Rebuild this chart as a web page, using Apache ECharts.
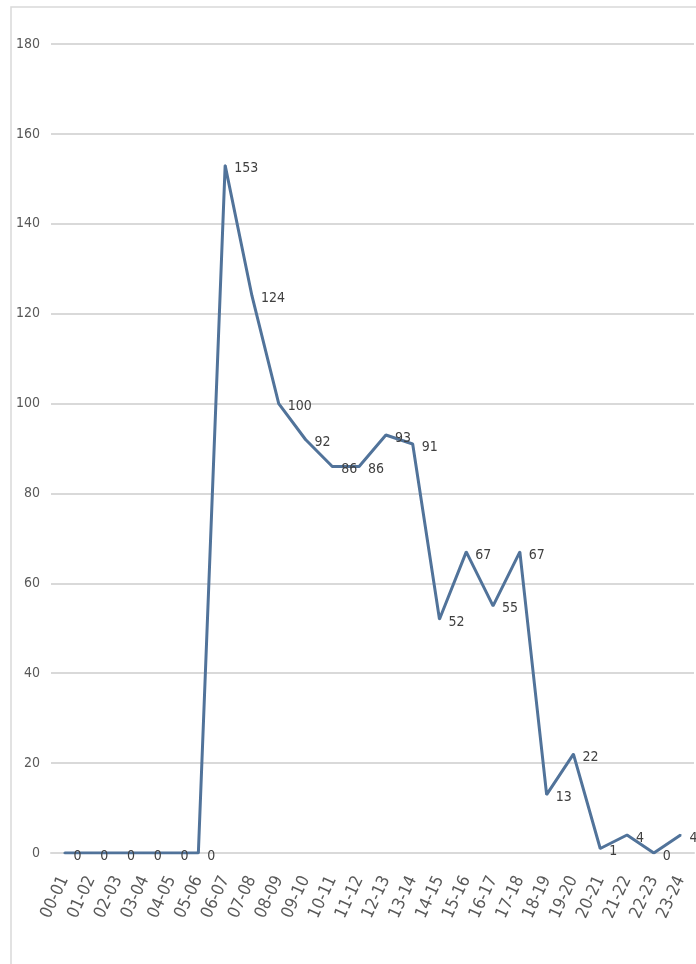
<!DOCTYPE html>
<html>
<head>
<meta charset="utf-8">
<script src="https://cdn.jsdelivr.net/npm/echarts@6/dist/echarts.min.js"></script>
<style>
  html, body { margin: 0; padding: 0; background: #fff; }
  #main { width: 696px; height: 964px; }
</style>
</head>
<body>
<div id="main"></div>
<script>
// hour slots
var categories = ['00-01', '01-02', '02-03', '03-04', '04-05', '05-06', '06-07', '07-08',
  '08-09', '09-10', '10-11', '11-12', '12-13', '13-14', '14-15', '15-16', '16-17',
  '17-18', '18-19', '19-20', '20-21', '21-22', '22-23', '23-24'];
var values = [0, 0, 0, 0, 0, 0, 153, 124, 100, 92, 86, 86, 93, 91, 52, 67, 55, 67, 13, 22, 1, 4, 0, 4];
var yTicks = [0, 20, 40, 60, 80, 100, 120, 140, 160, 180];

var chart = echarts.init(document.getElementById('main'));
var labelFont = '"DejaVu Sans Condensed", "Liberation Sans Narrow", sans-serif';

chart.setOption({
  animation: false,
  graphic: [
    {
      type: 'rect',
      shape: { x: 11, y: 7, width: 720, height: 990 },
      style: { fill: 'none', stroke: '#d9d9d9', lineWidth: 1.5 },
      z: -1
    }
  ],
  grid: {
    left: 51,
    right: 2,
    top: 44,
    bottom: 111
  },
  xAxis: {
    type: 'category',
    data: categories,
    axisLine: { lineStyle: { color: '#d9d9d9', width: 2 } },
    axisTick: { show: false },
    axisLabel: {
      rotate: 65,
      interval: 0,
      margin: 24,
      color: '#595959',
      fontSize: 17,
      fontFamily: labelFont
    }
  },
  yAxis: {
    type: 'value',
    min: yTicks[0],
    max: yTicks[yTicks.length - 1],
    interval: 20,
    axisLine: { show: false },
    axisTick: { show: false },
    axisLabel: {
      margin: 11,
      color: '#595959',
      fontSize: 14,
      fontFamily: labelFont
    },
    splitLine: { lineStyle: { color: '#d9d9d9', width: 2 } }
  },
  series: [
    {
      name: 'count',
      type: 'line',
      data: values,
      showSymbol: true,
      symbol: 'circle',
      symbolSize: 2,
      itemStyle: { color: '#51739a', borderWidth: 0 },
      lineStyle: { color: '#51739a', width: 3 },
      label: {
        show: true,
        position: 'right',
        distance: 8,
        offset: [0, 3],
        color: '#404040',
        fontSize: 14,
        fontFamily: labelFont
      }
    }
  ]
});
</script>
</body>
</html>
